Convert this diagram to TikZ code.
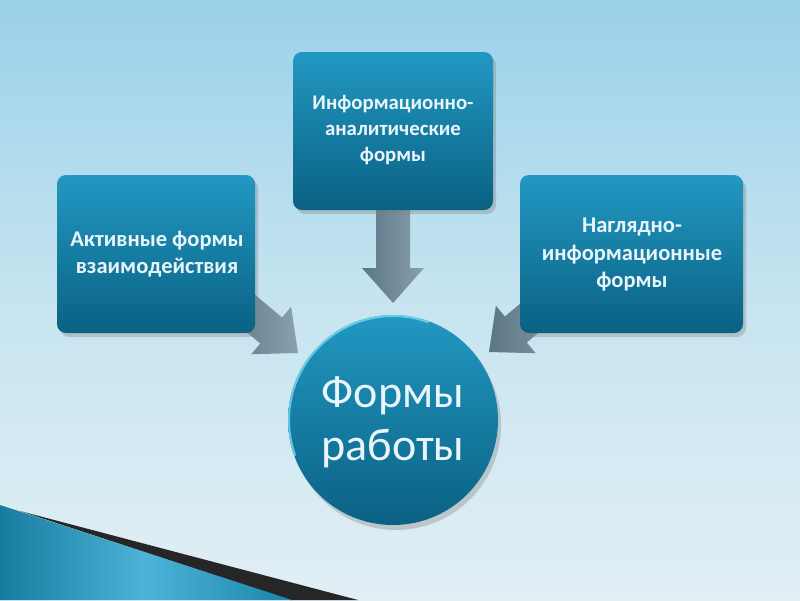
\documentclass[tikz,border=0pt]{standalone}
\usepackage{fontspec}
\setmainfont{Carlito}
\usetikzlibrary{shadows}
\definecolor{bgtop}{HTML}{9BD1EA}
\definecolor{bgmid}{HTML}{C6E4F0}
\definecolor{bgbot}{HTML}{E2EFF5}
\definecolor{boxtop}{HTML}{2298C2}
\definecolor{boxbot}{HTML}{0A6183}
\definecolor{txt}{HTML}{E8F6FB}
\definecolor{arrA}{HTML}{5A7584}
\definecolor{arrB}{HTML}{8AA1AE}
\definecolor{rim}{HTML}{7ADAF2}
\definecolor{wedgeA}{HTML}{177C9E}
\definecolor{wedgeB}{HTML}{4DB3D8}
\definecolor{wedgeC}{HTML}{1A86AA}
\tikzset{
  formbox/.style={rounded corners=9pt, draw=none, top color=boxtop, bottom color=boxbot,
    drop shadow={opacity=0.35, shadow xshift=3pt, shadow yshift=-4pt}},
  boxtext/.style={text=txt, align=center, font=\bfseries\fontsize{22.5}{27.5}\selectfont},
  boxtextsmall/.style={text=txt, align=center, font=\bfseries\fontsize{20.8}{26}\selectfont},
  bigtext/.style={text=txt, align=center, font=\fontsize{46}{53}\selectfont},
  blockarrow/.style={draw=none, left color=arrA, right color=arrB}
}
\newcommand{\blockarrowpath}[1]{% #1 = shaft length
  (0,0) -- (-35,31) -- (-35,17) -- (-35-#1,17) -- (-35-#1,-17) -- (-35,-17) -- (-35,-31) -- cycle}
\begin{document}
\begin{tikzpicture}[x=1pt,y=-1pt]
\useasboundingbox (0,0) rectangle (800,600);
% background
\shade[top color=bgtop, bottom color=bgbot, middle color=bgmid] (0,0) rectangle (800,600);
% bottom-left decoration
\fill[black!85] (20,511) -- (358,600) -- (290,600) -- cycle;
\shade[left color=wedgeA, right color=wedgeC, middle color=wedgeB] (0,505) -- (292,600) -- (0,600) -- cycle;
% arrows (drawn below the boxes)
\begin{scope}[shift={(393,303)}, rotate=-90]
  \shade[blockarrow] \blockarrowpath{60};
\end{scope}
\begin{scope}[shift={(298,353)}, rotate=-40]
  \shade[blockarrow] \blockarrowpath{60};
\end{scope}
\begin{scope}[shift={(489,352)}, rotate=-140]
  \shade[blockarrow] \blockarrowpath{60};
\end{scope}
% boxes
\path[formbox] (57,175) rectangle (255,333);
\path[formbox] (293,52) rectangle (493,210);
\path[formbox] (520,175) rectangle (743,333);
\node[boxtext] (left) at (157,254) {Активные формы\\взаимодействия};
\node[boxtextsmall] (top) at (393,130) {Информационно-\\аналитические\\формы};
\node[boxtext] (right) at (632,255) {Наглядно-\\информационные\\формы};
% circle
\shade[top color=boxtop, bottom color=boxbot, drop shadow={opacity=0.35, shadow xshift=3pt, shadow yshift=-5pt}] (393,420) circle[radius=105];
\draw[rim, line width=2pt, opacity=0.8] (393,420) ++(160:104) arc[start angle=160, end angle=290, radius=104];
\node[bigtext] (center) at (393,422) {Формы\\работы};
\end{tikzpicture}
\end{document}
